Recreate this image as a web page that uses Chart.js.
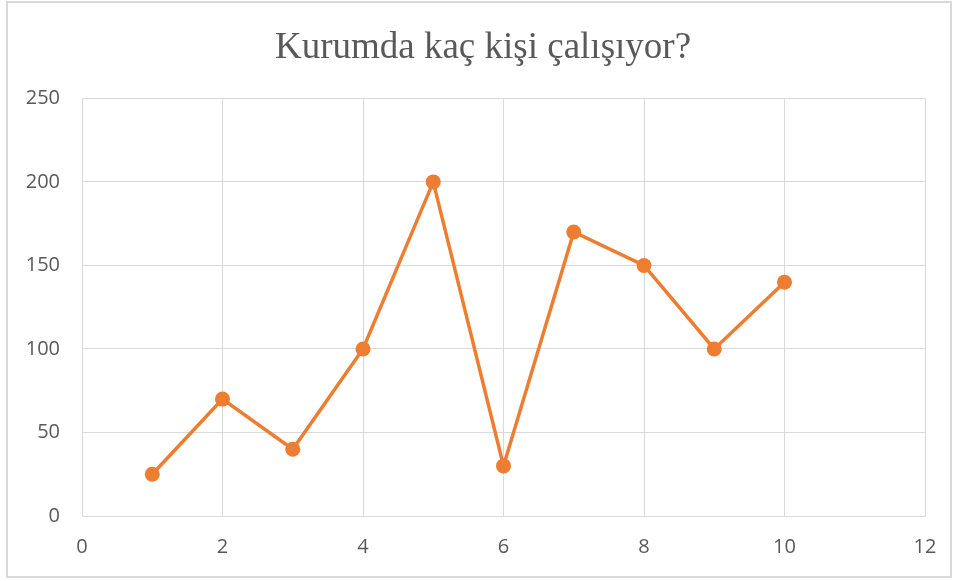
<!DOCTYPE html>
<html>
<head>
<meta charset="utf-8">
<script src="https://cdn.jsdelivr.net/npm/chart.js@4"></script>
<style>
  html, body { margin: 0; padding: 0; background: #fff; }
  #wrap { position: relative; width: 958px; height: 581px; }
</style>
</head>
<body>
<div id="wrap"><canvas id="myChart" width="958" height="581"></canvas></div>
<script>
var chartTitle = "Kurumda kaç kişi çalışıyor?";
var xValues = [1, 2, 3, 4, 5, 6, 7, 8, 9, 10]; // kurum sırası
var yValues = [25, 70, 40, 100, 200, 30, 170, 150, 100, 140]; // çalışan sayısı
var xTicks = [0, 2, 4, 6, 8, 10, 12];
var yTicks = [0, 50, 100, 150, 200, 250];

var lineColor = '#ED7D31';
var gridColor = '#d9d9d9';
var textColor = '#595959';

var points = xValues.map(function (x, i) { return { x: x, y: yValues[i] }; });

// dış çerçeve
var outerBorder = {
    id: 'outerBorder',
    beforeDraw: function (chart) {
        var c = chart.ctx;
        c.save();
        c.fillStyle = '#fff';
        c.fillRect(0, 0, chart.width, chart.height);
        c.strokeStyle = gridColor;
        c.lineWidth = 2;
        c.strokeRect(7, 2, 944, 575);
        c.restore();
    }
};

var ctx = document.getElementById('myChart');
var myChart = new Chart(ctx, {
    type: 'scatter',
    data: {
        datasets: [{
            data: points,
            showLine: true,
            borderColor: lineColor,
            backgroundColor: lineColor,
            borderWidth: 3.5,
            pointRadius: 7.5,
            pointHoverRadius: 7.5,
            pointBorderWidth: 0,
            tension: 0
        }]
    },
    options: {
        responsive: false,
        animation: false,
        layout: { padding: { left: 8, right: 0, top: 8, bottom: 3 } },
        plugins: {
            legend: { display: false },
            tooltip: { enabled: false },
            title: {
                display: true,
                text: chartTitle,
                color: textColor,
                font: { family: '"Liberation Serif", "Times New Roman", serif', size: 37, weight: 'normal' },
                padding: { top: 18, bottom: 28 }
            }
        },
        scales: {
            x: {
                type: 'linear',
                min: 0,
                max: 12,
                afterBuildTicks: function (scale) {
                    scale.ticks = xTicks.map(function (v) { return { value: v }; });
                },
                grid: { color: gridColor, lineWidth: 1, drawTicks: false },
                border: { color: gridColor, width: 1 },
                ticks: {
                    color: textColor,
                    padding: 19,
                    font: { family: '"Open Sans", Lato, sans-serif', size: 20 }
                }
            },
            y: {
                type: 'linear',
                min: 0,
                max: 250,
                afterBuildTicks: function (scale) {
                    scale.ticks = yTicks.map(function (v) { return { value: v }; });
                },
                afterFit: function (scale) { scale.width = 74; },
                grid: { color: gridColor, lineWidth: 1, drawTicks: false },
                border: { color: gridColor, width: 1 },
                ticks: {
                    color: textColor,
                    padding: 22,
                    font: { family: '"Open Sans", Lato, sans-serif', size: 20 }
                }
            },
            // sağ boşluk için görünmez eksen
            yRight: {
                type: 'linear',
                position: 'right',
                min: 0,
                max: 250,
                afterFit: function (scale) { scale.width = 33; },
                grid: { display: false, drawTicks: false },
                border: { display: false },
                ticks: { display: false }
            }
        }
    },
    plugins: [outerBorder]
});
</script>
</body>
</html>
